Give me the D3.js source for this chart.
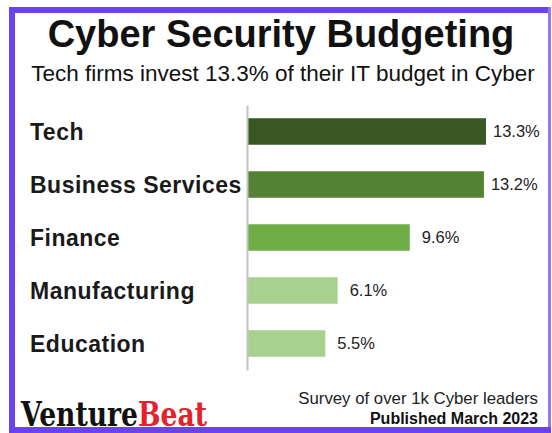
<!DOCTYPE html>
<html>
<head>
<meta charset="utf-8">
<script src="https://cdn.jsdelivr.net/npm/d3@7"></script>
<style>
  html, body { margin: 0; padding: 0; background: #ffffff; }
  svg { display: block; }
</style>
</head>
<body>
<svg id="chart" width="552" height="433"></svg>
<script>
// ---- data ----
const categories = ["Tech", "Business Services", "Finance", "Manufacturing", "Education"];
const values = [13.3, 13.2, 9.6, 6.1, 5.5];
const valueLabels = ["13.3%", "13.2%", "9.6%", "6.1%", "5.5%"];
const barColors = ["#385723", "#548235", "#70ad47", "#a9d18e", "#a9d18e"];
const titleText = "Cyber Security Budgeting";
const subtitleText = "Tech firms invest 13.3% of their IT budget in Cyber";
const sourceText = "Survey of over 1k Cyber leaders";
const publishedText = "Published March 2023";
const logoParts = ["Venture", "Beat"];

const svg = d3.select("#chart");
const W = 552, H = 433;
const font = "'Liberation Sans', Arial, Helvetica, sans-serif";
const purple = "#6a42f2";

svg.append("rect").attr("x", 0).attr("y", 0).attr("width", W).attr("height", H).attr("fill", "#fff");

// frame
svg.append("rect").attr("x", 9).attr("y", 7).attr("width", 542).attr("height", 6).attr("fill", purple);
svg.append("rect").attr("x", 9).attr("y", 7).attr("width", 6).attr("height", 426).attr("fill", purple);
svg.append("rect").attr("x", 548).attr("y", 7).attr("width", 3).attr("height", 426).attr("fill", "#8f78f0");
svg.append("rect").attr("x", 9).attr("y", 427).attr("width", 542).attr("height", 6).attr("fill", purple);

// titles
svg.append("text").attr("x", 281).attr("y", 47)
  .attr("text-anchor", "middle").attr("font-family", font).attr("font-weight", "bold")
  .attr("font-size", 38).attr("fill", "#111").text(titleText);
svg.append("text").attr("x", 283).attr("y", 81)
  .attr("text-anchor", "middle").attr("font-family", font)
  .attr("font-size", 22.5).attr("fill", "#111").text(subtitleText);

// scales
const y = d3.scaleBand().domain(categories).range([105, 370]).paddingInner(0.5).paddingOuter(0.25);
const x = d3.scaleLinear().domain([1.75, 13.3]).range([248, 486]);

const data = categories.map((c, i) => ({ c, v: values[i], label: valueLabels[i], color: barColors[i] }));

// bars
svg.append("g").selectAll("rect").data(data).join("rect")
  .attr("x", x(x.domain()[0]))
  .attr("y", d => y(d.c))
  .attr("width", d => x(d.v) - x(x.domain()[0]))
  .attr("height", y.bandwidth())
  .attr("fill", d => d.color);

// axis line (category axis; labels drawn separately at left)
const axisG = svg.append("g").attr("transform", `translate(${x(x.domain()[0]) - 1},0)`)
  .call(d3.axisLeft(y).tickSize(0).tickFormat(""));
axisG.select(".domain").attr("stroke", "#c4c4c4").attr("stroke-width", 2);

// category labels
svg.append("g").selectAll("text").data(data).join("text")
  .attr("x", 30)
  .attr("y", d => y(d.c) + y.bandwidth() / 2 + 8)
  .attr("font-family", font).attr("font-weight", "bold").attr("font-size", 23)
  .attr("letter-spacing", 0.5)
  .attr("fill", "#1a1a1a").text(d => d.c);

// value labels
svg.append("g").selectAll("text").data(data).join("text")
  .attr("x", d => x(d.v) + (d.v > 13 ? 7 : 12))
  .attr("y", d => y(d.c) + y.bandwidth() / 2 + 5)
  .attr("font-family", font).attr("font-size", 16.5)
  .attr("fill", "#222").text(d => d.label);

// footer
svg.append("text").attr("x", 538).attr("y", 404).attr("text-anchor", "end")
  .attr("font-family", font).attr("font-size", 16.8).attr("fill", "#222").text(sourceText);
svg.append("text").attr("x", 538).attr("y", 423.5).attr("text-anchor", "end")
  .attr("font-family", font).attr("font-weight", "bold").attr("font-size", 16).attr("fill", "#111").text(publishedText);

// logo: condensed bold serif via horizontal scaling of the group
const logoFont = "'DejaVu Serif', 'Liberation Serif', serif";
const logoG = svg.append("g");
const t1 = logoG.append("text").attr("x", 0).attr("y", 0)
  .attr("font-family", logoFont).attr("font-weight", "bold").attr("font-size", 33)
  .attr("fill", "#111").text(logoParts[0]);
const w1 = t1.node().getComputedTextLength();
const t2 = logoG.append("text").attr("x", w1).attr("y", 0)
  .attr("font-family", logoFont).attr("font-weight", "bold").attr("font-size", 33)
  .attr("fill", "#e3222b").text(logoParts[1]);
const w2 = t2.node().getComputedTextLength();
const sx = 186 / (w1 + w2);
logoG.attr("transform", `translate(21,426) scale(${sx},1)`);
</script>
</body>
</html>
